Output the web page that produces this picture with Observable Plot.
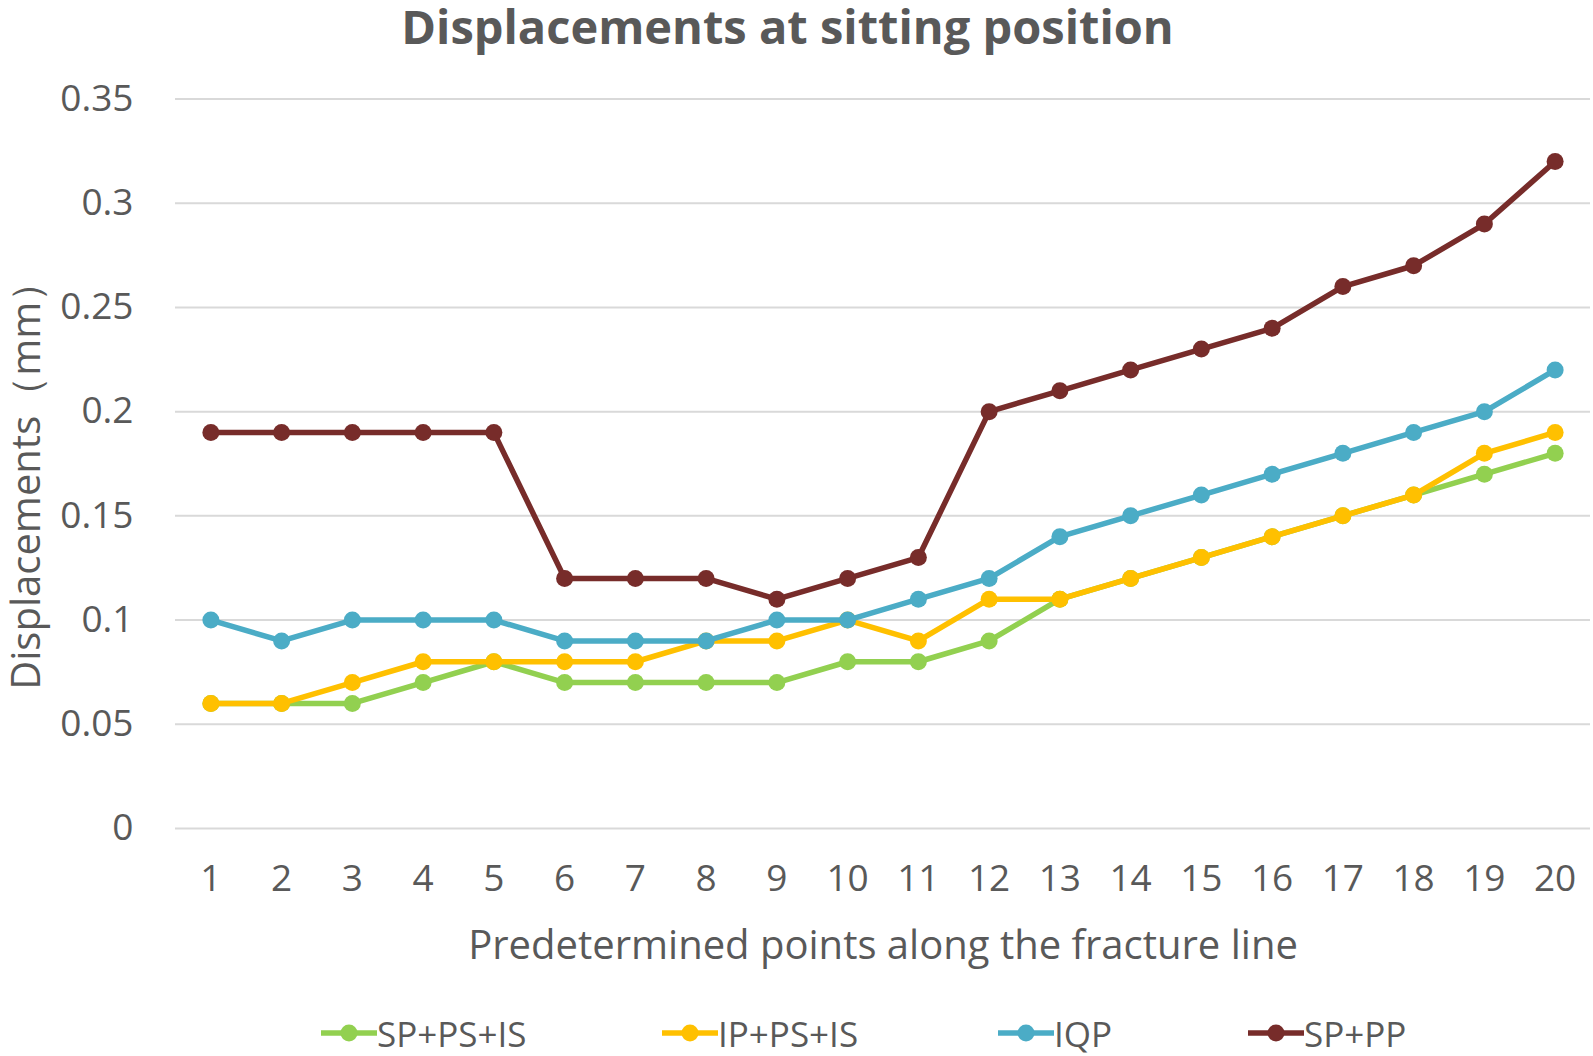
<!DOCTYPE html>
<html>
<head>
<meta charset="utf-8">
<script src="https://cdn.jsdelivr.net/npm/d3@7"></script>
<script src="https://cdn.jsdelivr.net/npm/@observablehq/plot@0.6"></script>
<style>
  html, body { margin: 0; padding: 0; background: #fff; width: 1593px; height: 1056px; overflow: hidden; }
  #title { position: absolute; top: 0; left: -9px; width: 1593px; text-align: center;
    font-family: "Open Sans", sans-serif; font-weight: bold; font-size: 47px; color: #595959; line-height: 53px; }
  #chart { position: absolute; top: 60px; left: 0; }
  #legend { position: absolute; top: 1010px; left: 0; width: 1593px; height: 46px; }
  .item { position: absolute; top: 0; height: 46px; display: flex; align-items: center;
    font-family: "Open Sans", sans-serif; font-size: 35px; color: #595959; }
</style>
</head>
<body>
<div id="title">Displacements at sitting position</div>
<div id="chart"></div>
<div id="legend"></div>
<script>
const points = d3.range(1, 21);
const seriesNames = ["SP+PS+IS", "IP+PS+IS", "IQP", "SP+PP"];
const seriesColors = ["#92D050", "#FFC000", "#4BACC6", "#772C2A"];
const spPsIs = [0.06,0.06,0.06,0.07,0.08,0.07,0.07,0.07,0.07,0.08,0.08,0.09,0.11,0.12,0.13,0.14,0.15,0.16,0.17,0.18];
const ipPsIs = [0.06,0.06,0.07,0.08,0.08,0.08,0.08,0.09,0.09,0.10,0.09,0.11,0.11,0.12,0.13,0.14,0.15,0.16,0.18,0.19];
const iqp    = [0.10,0.09,0.10,0.10,0.10,0.09,0.09,0.09,0.10,0.10,0.11,0.12,0.14,0.15,0.16,0.17,0.18,0.19,0.20,0.22];
const spPp   = [0.19,0.19,0.19,0.19,0.19,0.12,0.12,0.12,0.11,0.12,0.13,0.20,0.21,0.22,0.23,0.24,0.26,0.27,0.29,0.32];
const yTicks = [0, 0.05, 0.1, 0.15, 0.2, 0.25, 0.3, 0.35];
const xLabel = "Predetermined points along the fracture line";
const yLabel = "Displacements（mm）";

const seriesValues = [spPsIs, ipPsIs, iqp, spPp];
const data = seriesNames.flatMap((s, i) => points.map((p, j) => ({series: s, point: p, value: seriesValues[i][j]})));

const marks = [
  Plot.ruleY(yTicks, {stroke: "#D9D9D9", strokeWidth: 2})
];
seriesNames.forEach((s, i) => {
  const d = data.filter(r => r.series === s);
  marks.push(Plot.line(d, {x: "point", y: "value", stroke: seriesColors[i], strokeWidth: 5.5, strokeLinejoin: "round"}));
  marks.push(Plot.dot(d, {x: "point", y: "value", fill: seriesColors[i], r: 8.5}));
});

const chart = Plot.plot({
  width: 1593,
  height: 920,
  marginTop: 38.5,
  marginBottom: 152,
  marginLeft: 175,
  marginRight: 3,
  style: {fontFamily: "'Open Sans', sans-serif", fontSize: "37px", color: "#595959", background: "transparent"},
  x: {type: "point", domain: points, padding: 0.5, round: false, label: null},
  y: {domain: [0, 0.35], label: null},
  marks: [
    ...marks,
    Plot.axisX({tickSize: 0, tickPadding: 36, fontSize: 37, label: null}),
    Plot.axisY(yTicks, {tickSize: 0, tickPadding: 42, fontSize: 37, label: null, tickFormat: d => String(+d.toFixed(2))}),
    Plot.text([xLabel], {frameAnchor: "bottom", dy: 130, fontSize: 40, fill: "#595959"}),
    Plot.text([yLabel], {frameAnchor: "left", textAnchor: "middle", dx: -148, dy: 12, rotate: -90, fontSize: 40, fill: "#595959"})
  ]
});
document.getElementById("chart").appendChild(chart);

const legend = document.getElementById("legend");
const legendX = [321, 662, 998, 1248];
seriesNames.forEach((s, i) => {
  const item = document.createElement("div");
  item.className = "item";
  item.style.left = legendX[i] + "px";
  item.innerHTML = `<svg width="56" height="20"><line x1="0" y1="10" x2="56" y2="10" stroke="${seriesColors[i]}" stroke-width="5.5"/><circle cx="28" cy="10" r="8.5" fill="${seriesColors[i]}"/></svg><span>${s}</span>`;
  legend.appendChild(item);
});
</script>
</body>
</html>
